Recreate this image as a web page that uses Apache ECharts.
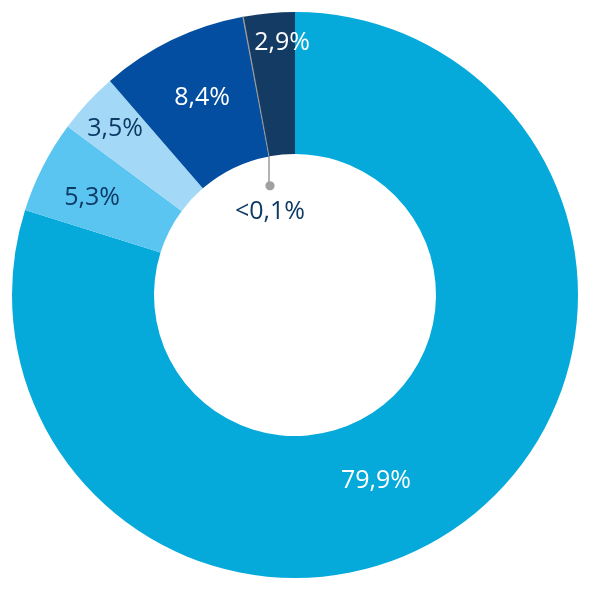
<!DOCTYPE html>
<html><head><meta charset="utf-8">
<script src="https://cdn.jsdelivr.net/npm/echarts@6/dist/echarts.min.js"></script>
<style>html,body{margin:0;padding:0;background:#fff}#c{width:591px;height:591px}</style>
</head><body><div id="c"></div>
<script>
const categories = ['A', 'B', 'C', 'D', 'E', 'F'];
const values = [79.9, 5.3, 3.5, 8.4, 0.05, 2.9];
const labelTexts = ['79,9%', '5,3%', '3,5%', '8,4%', '<0,1%', '2,9%'];

const colors = ['#05AADB', '#5BC5F2', '#A3D9F7', '#034EA0', '#9A9A9A', '#143B64'];
const labelColors = ['#ffffff', '#0E3A66', '#0E3A66', '#ffffff', '#0E3A66', '#ffffff'];
const labelPos = [[376, 481], [92, 198], [115, 129], [202, 98], [270, 179], [282, 43]];
const FONT = '"Open Sans", sans-serif';
const FS = 25;

const chart = echarts.init(document.getElementById('c'));
const data = values.map((v, i) => {
  const item = {
    name: categories[i], value: v,
    itemStyle: { color: colors[i] },
    label: { color: labelColors[i] }
  };
  if (i === 4) {
    item.itemStyle.borderColor = '#9A9A9A';
    item.itemStyle.borderWidth = 1;
    item.label = {
      position: 'outside',
      formatter: '{d|●}\n{t|' + labelTexts[i] + '}',
      rich: {
        d: { fontSize: 12, lineHeight: 14, color: '#A0A0A0', fontFamily: '"DejaVu Sans", sans-serif' },
        t: { fontSize: FS, lineHeight: 38, color: '#0E3A66', fontFamily: FONT }
      }
    };
    item.labelLine = { show: true, lineStyle: { color: '#9A9A9A', width: 1.5 } };
  }
  return item;
});

chart.setOption({
  animation: false,
  series: [{
    type: 'pie',
    center: [295, 295],
    radius: [141, 283],
    startAngle: 90,
    clockwise: true,
    avoidLabelOverlap: false,
    silent: true,
    label: {
      show: true,
      position: 'inside',
      fontFamily: FONT,
      fontSize: FS,
      formatter: p => labelTexts[p.dataIndex]
    },
    labelLine: { show: false },
    labelLayout: function (p) {
      const pos = labelPos[p.dataIndex];
      const o = { x: pos[0], y: pos[1], align: 'center', verticalAlign: p.dataIndex === 4 ? 'top' : 'middle' };
      if (p.dataIndex === 4) {
        o.labelLinePoints = [[269, 156], [269, 170], [269, 184]];
      }
      return o;
    },
    data: data
  }]
});
</script>
</body></html>
